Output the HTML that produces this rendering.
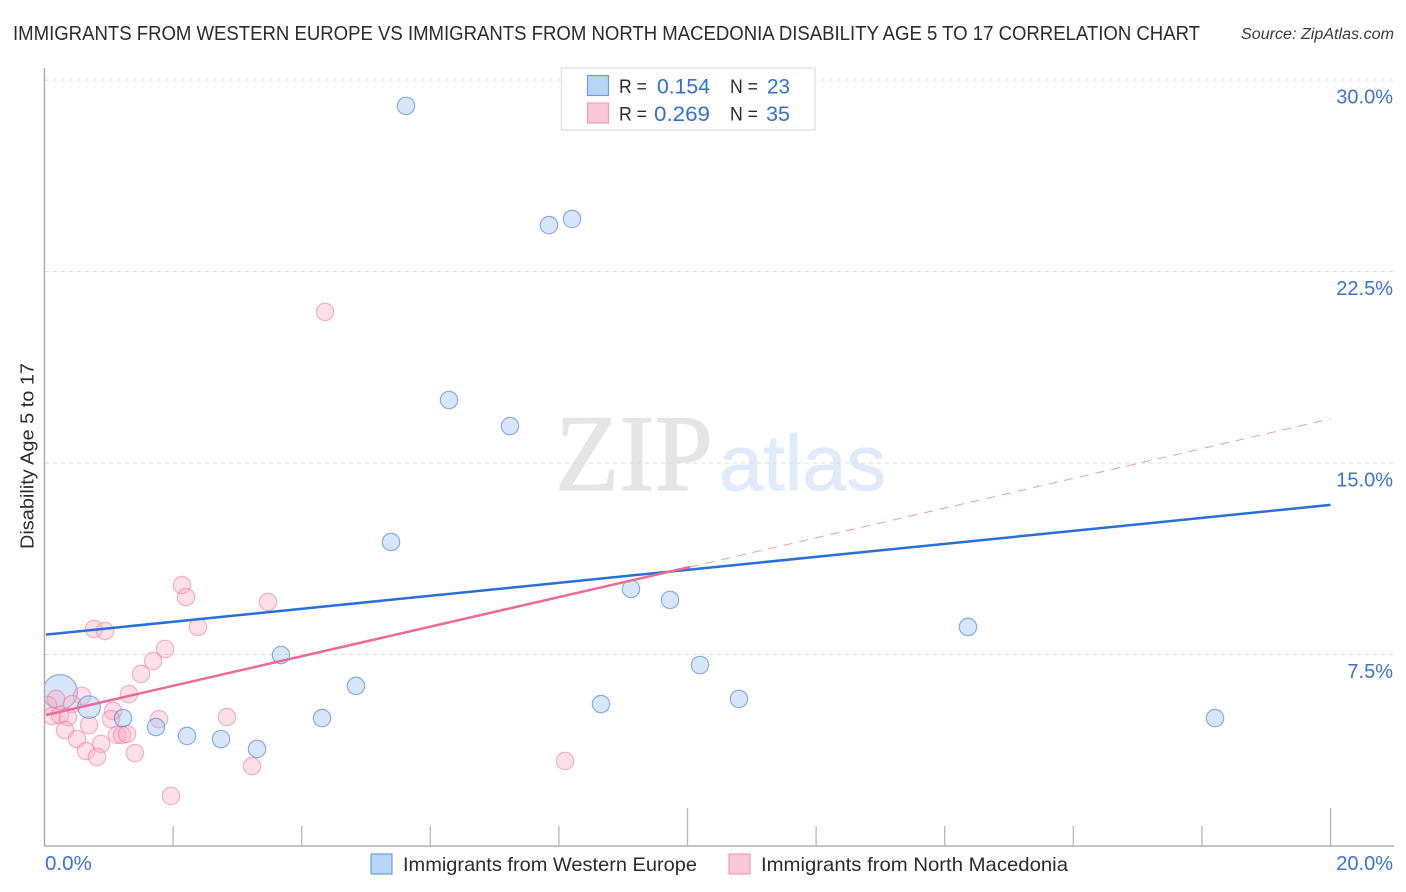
<!DOCTYPE html>
<html lang="en">
<head>
<meta charset="utf-8">
<title>Immigrants from Western Europe vs Immigrants from North Macedonia Disability Age 5 to 17 Correlation Chart</title>
<style>
html,body{margin:0;padding:0;background:#fff;}
body{width:1406px;height:892px;overflow:hidden;}
svg{display:block;font-family:"Liberation Sans",sans-serif;}
</style>
</head>
<body>
<svg id="chart" width="1406" height="892" viewBox="0 0 1406 892" xmlns="http://www.w3.org/2000/svg">
  <defs>
    <clipPath id="plot-clip"><rect x="45" y="60" width="1349" height="786"/></clipPath>
  </defs>
  <rect x="0" y="0" width="1406" height="892" fill="#ffffff"/>
  <text x="13" y="40" font-size="20" fill="#2b2b2b" textLength="1187" lengthAdjust="spacingAndGlyphs">IMMIGRANTS FROM WESTERN EUROPE VS IMMIGRANTS FROM NORTH MACEDONIA DISABILITY AGE 5 TO 17 CORRELATION CHART</text>
  <text x="1241" y="39" font-size="15.5" font-style="italic" fill="#3a3a3a" textLength="153" lengthAdjust="spacingAndGlyphs">Source: ZipAtlas.com</text>

  <g>
    <text x="555" y="490" font-family="'Liberation Serif',serif" font-size="109" fill="#e5e5e5" stroke="#e5e5e5" stroke-width="1.2" textLength="158" lengthAdjust="spacingAndGlyphs">ZIP</text>
    <text x="719" y="490" font-size="79" fill="#e0eafa" stroke="#e0eafa" stroke-width="0.8" textLength="167" lengthAdjust="spacingAndGlyphs">atlas</text>
  </g>

  <g id="grid"></g>
  <g id="axes">
    <line x1="44.5" y1="68" x2="44.5" y2="846" stroke="#a8a8a8" stroke-width="1.4"/>
    <line x1="44" y1="846" x2="1394" y2="846" stroke="#b0b0b0" stroke-width="1.4"/>
  </g>
  <g id="x-ticks"></g>
  <g id="y-labels"></g>
  <g id="x-labels"></g>
  <text transform="translate(33.5,549) rotate(-90)" x="0" y="0" font-size="18" fill="#2b2b2b" textLength="186" lengthAdjust="spacingAndGlyphs">Disability Age 5 to 17</text>

  <g id="points" clip-path="url(#plot-clip)"></g>
  <g id="trends"></g>

  <g>
    <rect x="561.5" y="68" width="253.5" height="62" fill="#ffffff" stroke="#e2e2e2" stroke-width="1.4"/>
    <rect x="587.5" y="75.5" width="21" height="20" fill="#b8d4f6" stroke="#6d9fdc" stroke-width="1.2"/>
    <rect x="587.5" y="103" width="21" height="20" fill="#fcc7d8" stroke="#f29bb8" stroke-width="1.2"/>
    <text x="619" y="93" font-size="19" fill="#2b2b2b" textLength="28" lengthAdjust="spacingAndGlyphs">R =</text>
    <text x="657" y="93.5" font-size="21" fill="#3370cf" textLength="53" lengthAdjust="spacingAndGlyphs">0.154</text>
    <text x="730" y="93" font-size="19" fill="#2b2b2b" textLength="28" lengthAdjust="spacingAndGlyphs">N =</text>
    <text x="767" y="93.5" font-size="21" fill="#3370cf" textLength="23" lengthAdjust="spacingAndGlyphs">23</text>
    <text x="619" y="120.5" font-size="19" fill="#2b2b2b" textLength="28" lengthAdjust="spacingAndGlyphs">R =</text>
    <text x="654" y="121" font-size="21" fill="#3370cf" textLength="56" lengthAdjust="spacingAndGlyphs">0.269</text>
    <text x="730" y="120.5" font-size="19" fill="#2b2b2b" textLength="28" lengthAdjust="spacingAndGlyphs">N =</text>
    <text x="766" y="121" font-size="21" fill="#3370cf" textLength="24" lengthAdjust="spacingAndGlyphs">35</text>
  </g>

  <g>
    <rect x="371" y="854" width="21" height="20" fill="#b8d4f6" stroke="#6d9fdc" stroke-width="1.2"/>
    <text x="403" y="871" font-size="19.5" fill="#2b2b2b" textLength="294" lengthAdjust="spacingAndGlyphs">Immigrants from Western Europe</text>
    <rect x="729" y="854" width="21" height="20" fill="#fcc7d8" stroke="#f29bb8" stroke-width="1.2"/>
    <text x="761" y="871" font-size="19.5" fill="#2b2b2b" textLength="307" lengthAdjust="spacingAndGlyphs">Immigrants from North Macedonia</text>
  </g>
</svg>
<script>
const yTickValues = [7.5, 15, 22.5, 30];
const yTickLabels = ['7.5%', '15.0%', '22.5%', '30.0%'];
const xTickValues = [2, 4, 6, 8, 10, 12, 14, 16, 18, 20];
const xMajorTicks = [10, 20];
const xEndValues = [0, 20];
const xEndLabels = ['0.0%', '20.0%'];

const blueX = [5.622, 7.846, 8.204, 6.291, 7.239, 5.389, 9.121, 9.728, 14.362, 3.678, 10.194, 4.844, 10.801, 8.655, 0.692, 1.221, 4.316, 18.204, 1.734, 2.216, 2.745, 3.305, 0.241];
const blueY = [28.99, 24.32, 24.56, 17.47, 16.45, 11.91, 10.07, 9.64, 8.58, 7.48, 7.09, 6.27, 5.76, 5.56, 5.44, 5.01, 5.01, 5.01, 4.66, 4.31, 4.19, 3.80, 6.03];
const blueWeight = [1, 1, 1, 1, 1, 1, 1, 1, 1, 1, 1, 1, 1, 1, 1.3, 1, 1, 1, 1, 1, 1, 1, 2];

const pinkX = [4.362, 2.138, 2.201, 3.476, 0.770, 0.941, 2.387, 1.874, 1.687, 1.501, 1.314, 0.583, 0.179, 0.428, 0.054, 1.065, 0.117, 0.241, 0.365, 1.781, 2.838, 1.034, 0.692, 0.319, 0.505, 1.128, 1.205, 1.283, 0.879, 0.645, 0.816, 1.407, 3.227, 8.095, 1.967];
const pinkY = [20.92, 10.22, 9.75, 9.56, 8.50, 8.42, 8.58, 7.72, 7.25, 6.74, 5.95, 5.88, 5.76, 5.56, 5.52, 5.29, 5.09, 5.13, 5.05, 4.97, 5.05, 4.97, 4.74, 4.54, 4.19, 4.35, 4.35, 4.39, 4.00, 3.72, 3.49, 3.64, 3.13, 3.33, 1.96];

const blueTrendX = [0.023, 20];
const blueTrendY = [8.28, 13.36];
const pinkTrendX = [0.023, 10.04];
const pinkTrendY = [5.13, 10.93];
const pinkDashX = [10.04, 20];
const pinkDashY = [10.93, 16.73];

function xScale(v) { return 44.5 + v * 64.3; }
function yScale(v) { return 846 - v * 25.53; }

const NS = 'http://www.w3.org/2000/svg';
function make(tag, parentId, props, text) {
  const el = document.createElementNS(NS, tag);
  for (const k in props) el.setAttribute(k, props[k]);
  if (text !== undefined) el.textContent = text;
  document.getElementById(parentId).appendChild(el);
  return el;
}

yTickValues.forEach(function (v, i) {
  const line = make('line', 'grid', { x1: 45, x2: 1394, y1: yScale(v), y2: yScale(v), stroke: '#dcdcdc', 'stroke-width': 1, 'stroke-dasharray': '4 4' });
  
  
  const label = make('text', 'y-labels', { x: 1393, y: yScale(v) + 23.5, 'text-anchor': 'end', 'font-size': 20, fill: '#3d72d2' }, yTickLabels[i]);
  
  
});

xTickValues.forEach(function (v) {
  const top = xMajorTicks.indexOf(v) >= 0 ? 808 : 826;
  const tick = make('line', 'x-ticks', { x1: xScale(v), x2: xScale(v), y1: top, y2: 846, stroke: '#b8b8b8', 'stroke-width': 1.3 });
  
  
});

xEndValues.forEach(function (v, i) {
  const attrs = i === 0
    ? { x: xScale(v) + 0.5, y: 870, 'font-size': 20.5, fill: '#3d72d2' }
    : { x: 1393, y: 870, 'text-anchor': 'end', 'font-size': 20, fill: '#3d72d2' };
  const label = make('text', 'x-labels', attrs, xEndLabels[i]);
  
  
});

function drawBlue(i) {
  const c = make('circle', 'points', {
    cx: xScale(blueX[i]), cy: yScale(blueY[i]), r: 8.7 * blueWeight[i],
    fill: 'rgba(150,190,243,0.38)', stroke: 'rgba(80,135,210,0.65)', 'stroke-width': 1.2
  });
  
  
}
function drawPink(i) {
  const c = make('circle', 'points', {
    cx: xScale(pinkX[i]), cy: yScale(pinkY[i]), r: 8.7,
    fill: 'rgba(250,170,195,0.36)', stroke: 'rgba(236,120,160,0.55)', 'stroke-width': 1.2
  });
  
  
}
blueX.forEach(function (_, i) { if (blueWeight[i] >= 2) drawBlue(i); });
pinkX.forEach(function (_, i) { drawPink(i); });
blueX.forEach(function (_, i) { if (blueWeight[i] < 2) drawBlue(i); });

const blueTrend = make('line', 'trends', { x1: xScale(blueTrendX[0]), y1: yScale(blueTrendY[0]), x2: xScale(blueTrendX[1]), y2: yScale(blueTrendY[1]), stroke: '#2a6fd6', 'stroke-width': 2.5 });


const pinkDash = make('line', 'trends', { x1: xScale(pinkDashX[0]), y1: yScale(pinkDashY[0]), x2: xScale(pinkDashX[1]), y2: yScale(pinkDashY[1]), stroke: '#ee9ab8', 'stroke-width': 1, 'stroke-dasharray': '9 7' });


const pinkTrend = make('line', 'trends', { x1: xScale(pinkTrendX[0]), y1: yScale(pinkTrendY[0]), x2: xScale(pinkTrendX[1]), y2: yScale(pinkTrendY[1]), stroke: '#ec6a98', 'stroke-width': 2.5 });


</script>
</body>
</html>
